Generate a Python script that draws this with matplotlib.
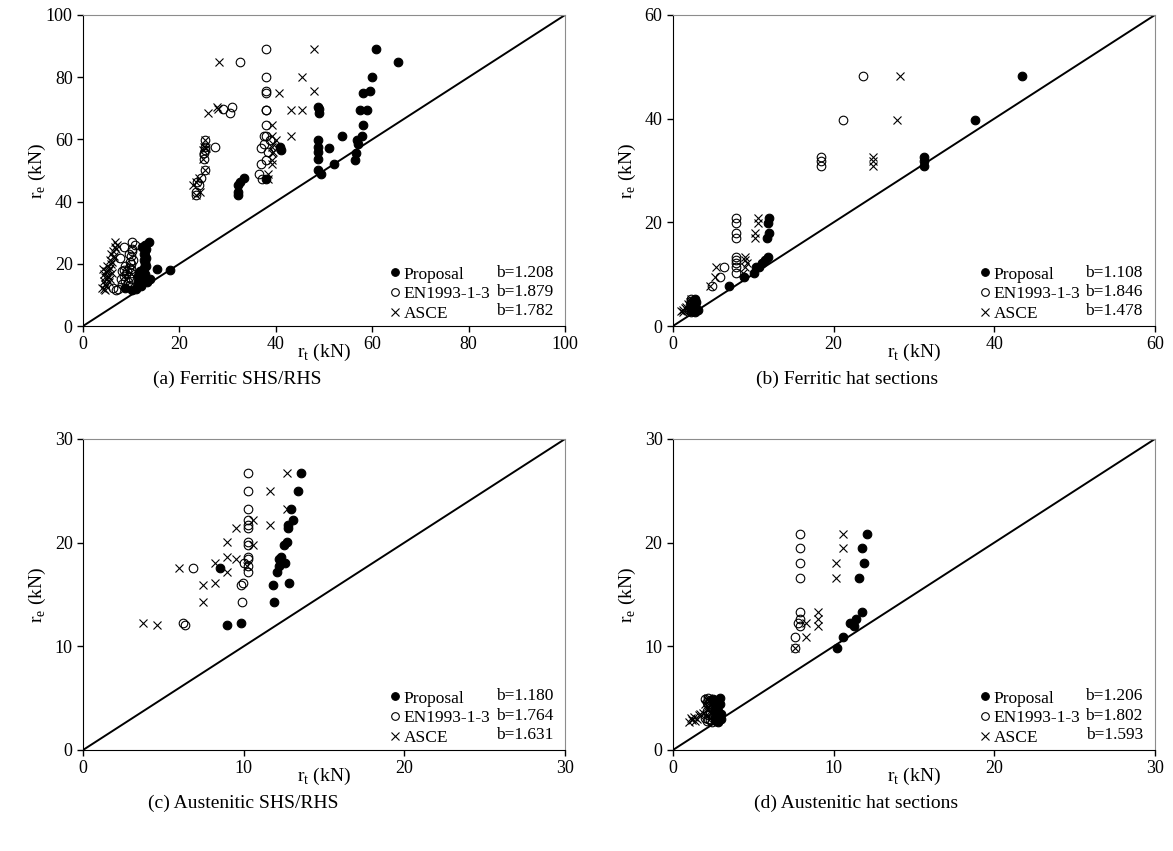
"""Test-to-predicted resistance scatter, four panels (Proposal / EN1993-1-3 / ASCE)."""
import matplotlib
matplotlib.use("Agg")
import matplotlib.pyplot as plt
from matplotlib.lines import Line2D

plt.rcParams["font.family"] = ["Liberation Serif", "DejaVu Serif"]
plt.rcParams["mathtext.fontset"] = "custom"
plt.rcParams["mathtext.rm"] = "Liberation Serif"

SERIES = ["Proposal", "EN1993-1-3", "ASCE"]

# (a) Ferritic SHS/RHS -- test value r_e and the three predictions r_t
re_a = [89.0, 84.8, 80.2, 75.7, 74.8, 70.5, 69.5, 69.5, 68.6, 69.8, 64.6, 61.1, 61.1, 59.8,
        59.8, 58.5, 57.7, 57.7, 57.1, 56.6, 56.0, 55.5, 53.6, 53.4, 52.0, 50.2, 48.9, 47.7,
        47.2, 46.4, 45.3, 43.2, 42.1,
        26.9, 26.2, 25.5, 24.8, 24.0, 23.3, 22.6, 21.8, 21.2, 20.5, 19.8, 19.2, 18.6, 18.2,
        18.0, 17.6, 17.1, 16.6, 16.1, 15.6, 15.0, 14.6, 14.0, 13.4, 12.8, 12.2, 11.8, 11.6,
        17.8, 15.2]
prop_a = [60.7, 65.4, 60.0, 59.5, 58.0, 48.7, 57.5, 58.9, 49.0, 48.9, 58.0, 57.9, 53.7, 56.8,
          48.7, 57.1, 48.7, 40.9, 51.1, 41.1, 48.7, 56.6, 48.7, 56.5, 52.1, 48.7, 49.3, 33.3,
          38.0, 32.6, 32.2, 32.2, 32.1,
          13.6, 12.8, 12.2, 13.0, 12.9, 12.7, 12.9, 13.1, 12.6, 12.9, 12.8, 13.0, 12.7, 15.3,
          18.0, 12.5, 11.6, 12.9, 11.4, 12.8, 12.5, 11.3, 13.2, 11.5, 12.0, 8.7, 11.0, 10.1,
          11.8, 13.8]
en_a = [38.0, 32.6, 38.0, 38.0, 38.0, 30.9, 38.0, 38.0, 30.4, 29.1, 38.0, 37.5, 38.0, 38.8,
        25.3, 37.6, 25.3, 27.4, 37.0, 25.3, 38.3, 25.0, 25.0, 38.0, 37.0, 25.3, 36.6, 24.5,
        37.1, 23.6, 24.0, 23.5, 23.5,
        10.1, 10.8, 8.4, 10.1, 10.2, 9.6, 10.0, 7.7, 10.3, 9.8, 10.0, 8.8, 9.5, 10.0,
        8.4, 9.2, 9.9, 9.0, 8.5, 9.6, 7.9, 8.8, 9.3, 8.1, 9.5, 6.2, 7.2, 6.9,
        8.1, 10.0]
asce_a = [48.0, 28.3, 45.4, 48.0, 40.7, 27.7, 43.2, 45.4, 26.0, 28.1, 39.2, 43.2, 39.2, 40.0,
          25.3, 39.5, 25.0, 39.2, 25.5, 24.8, 39.5, 39.2, 24.8, 39.2, 39.2, 25.3, 38.3, 24.0,
          38.3, 23.5, 22.8, 24.3, 23.5,
          6.6, 7.0, 6.6, 6.8, 6.2, 5.9, 6.4, 6.5, 5.5, 6.1, 5.8, 5.0, 5.6, 4.2,
          5.3, 4.8, 6.0, 4.4, 5.2, 4.6, 4.9, 4.3, 5.4, 4.5, 4.7, 3.9, 4.4, 4.6,
          5.1, 5.6]

# (b) Ferritic hat sections
re_b = [48.2, 39.8, 32.6, 31.8, 30.9, 20.8, 19.9, 18.0, 17.0, 13.4, 12.7, 12.1, 11.4, 11.4,
        10.2, 9.5, 7.7,
        5.2, 4.9, 4.6, 4.3, 4.0, 3.7, 3.4, 3.1, 2.9, 2.7, 3.0]
prop_b = [43.5, 37.6, 31.3, 31.3, 31.2, 12.0, 11.8, 12.0, 11.7, 11.8, 11.5, 11.1, 10.7, 10.4,
          10.1, 8.8, 7.0,
          2.8, 2.6, 2.9, 2.7, 2.8, 2.5, 2.6, 2.9, 2.4, 2.7, 3.1]
en_b = [23.7, 21.2, 18.4, 18.4, 18.4, 7.9, 7.9, 7.9, 7.9, 7.9, 7.9, 7.9, 7.9, 6.3,
        7.9, 5.8, 4.9,
        2.3, 2.2, 2.4, 2.3, 2.1, 2.2, 2.4, 2.0, 2.2, 2.3, 2.5]
asce_b = [28.3, 27.9, 24.9, 24.9, 24.9, 10.6, 10.6, 10.2, 10.2, 9.0, 9.0, 9.2, 9.0, 5.4,
          8.7, 5.2, 4.6,
          2.3, 2.2, 2.1, 1.9, 2.0, 1.6, 1.5, 1.2, 1.0, 1.3, 1.8]

# (c) Austenitic SHS/RHS
re_c = [26.7, 25.0, 23.2, 22.2, 21.7, 21.4, 20.1, 19.8, 18.6, 18.4, 18.0, 17.7, 17.2, 17.6,
        16.1, 15.9, 14.3, 12.2, 12.1]
prop_c = [13.57, 13.36, 12.94, 13.09, 12.78, 12.74, 12.67, 12.52, 12.32, 12.22, 12.57, 12.22,
          12.09, 8.53, 12.82, 11.8, 11.9, 9.81, 8.94]
en_c = [10.29, 10.29, 10.29, 10.29, 10.29, 10.29, 10.29, 10.29, 10.29, 10.29, 10.04, 10.29,
        10.29, 6.82, 9.98, 9.83, 9.87, 6.24, 6.35]
asce_c = [12.72, 11.64, 12.72, 10.6, 11.64, 9.52, 8.94, 10.6, 8.94, 9.52, 8.21, 10.19, 8.94,
          5.97, 8.21, 7.49, 7.49, 3.75, 4.59]

# (d) Austenitic hat sections
re_d = [20.8, 19.5, 18.0, 16.6, 13.3, 12.6, 12.2, 12.0, 10.9, 9.8,
        5.0, 4.8, 4.6, 4.4, 4.2, 4.0, 3.8, 3.6, 3.4, 3.2, 3.1, 3.0, 2.9, 2.8, 2.7, 4.9, 3.5]
prop_d = [12.05, 11.74, 11.9, 11.6, 11.75, 11.4, 11.0, 11.3, 10.6, 10.2,
          2.9, 2.8, 2.7, 2.9, 2.6, 2.7, 2.8, 2.6, 2.9, 2.7, 2.8, 3.0, 2.6, 2.7, 2.8, 2.5, 3.0]
en_d = [7.9, 7.9, 7.9, 7.9, 7.9, 7.9, 7.8, 7.9, 7.6, 7.6,
        2.2, 2.3, 2.1, 2.2, 2.3, 2.4, 2.1, 2.3, 2.2, 2.4, 2.0, 2.2, 2.3, 2.1, 2.4, 2.0, 2.3]
asce_d = [10.56, 10.56, 10.14, 10.14, 9.0, 9.0, 8.3, 9.0, 8.3, 7.6,
          2.2, 2.1, 2.3, 2.0, 2.2, 2.1, 2.3, 1.9, 1.6, 1.3, 1.1, 1.5, 1.2, 1.4, 1.0, 2.1, 1.7]

b_a = [1.208, 1.879, 1.782]
b_b = [1.108, 1.846, 1.478]
b_c = [1.180, 1.764, 1.631]
b_d = [1.206, 1.802, 1.593]

captions = ["(a) Ferritic SHS/RHS", "(b) Ferritic hat sections",
            "(c) Austenitic SHS/RHS", "(d) Austenitic hat sections"]
limits = [100, 60, 30, 30]
steps = [20, 20, 10, 10]

MARKERS = [
    dict(marker="o", mfc="black", mec="black", ms=6.2, mew=0.8),
    dict(marker="o", mfc="none", mec="black", ms=6.2, mew=0.8),
    dict(marker="x", color="black", ms=6.2, mew=0.8),
]


def draw_panel(ax, re, preds, bvals, lim, step):
    for pred, style in zip(preds, MARKERS):
        ax.plot(pred, re, ls="none", **style)
    ax.plot([0, lim], [0, lim], color="black", lw=1.4)
    ax.set_xlim(0, lim)
    ax.set_ylim(0, lim)
    ax.set_xticks(range(0, lim + 1, step))
    ax.set_yticks(range(0, lim + 1, step))
    ax.tick_params(direction="out", length=4, width=1, labelsize=13, top=False, right=False)
    for side in ("left", "bottom"):
        ax.spines[side].set_color("black")
    for side in ("top", "right"):
        ax.spines[side].set_color("#8c8c8c")
    ax.set_xlabel(r"r$_\mathrm{t}$ (kN)", fontsize=14)
    ax.xaxis.set_label_coords(0.5, -0.05)
    ax.set_ylabel(r"r$_\mathrm{e}$ (kN)", fontsize=14)
    ax.yaxis.set_label_coords(-0.072, 0.5)

    handles = [Line2D([], [], ls="none", **dict(st, ms=5.5)) for st in MARKERS]
    ax.legend(handles, SERIES, loc="lower left", bbox_to_anchor=(0.617, -0.02), frameon=False,
              fontsize=12.5, handlelength=0.5, handletextpad=0.25, labelspacing=0.2,
              borderaxespad=0.2)
    for i, b in enumerate(bvals):
        ax.text(0.975, 0.172 - i * 0.062, f"b={b:.3f}", transform=ax.transAxes,
                ha="right", va="center", fontsize=12.5)


def main() -> None:
    fig = plt.figure(figsize=(11.73, 8.51), dpi=100)
    boxes = [
        [0.0708, 0.6169, 0.4109, 0.3655],
        [0.5737, 0.6169, 0.4109, 0.3655],
        [0.0708, 0.1187, 0.4109, 0.3655],
        [0.5737, 0.1187, 0.4109, 0.3655],
    ]
    data = [
        (re_a, [prop_a, en_a, asce_a], b_a),
        (re_b, [prop_b, en_b, asce_b], b_b),
        (re_c, [prop_c, en_c, asce_c], b_c),
        (re_d, [prop_d, en_d, asce_d], b_d),
    ]
    cap_pos = [(0.202, 0.554), (0.722, 0.554), (0.207, 0.056), (0.730, 0.056)]
    for box, (re, preds, bvals), lim, step, cap, (cx, cy) in zip(
            boxes, data, limits, steps, captions, cap_pos):
        ax = fig.add_axes(box)
        draw_panel(ax, re, preds, bvals, lim, step)
        fig.text(cx, cy, cap, ha="center", va="center", fontsize=14)

    fig.savefig("out.png", dpi=100)
    plt.close(fig)


if __name__ == "__main__":
    main()
